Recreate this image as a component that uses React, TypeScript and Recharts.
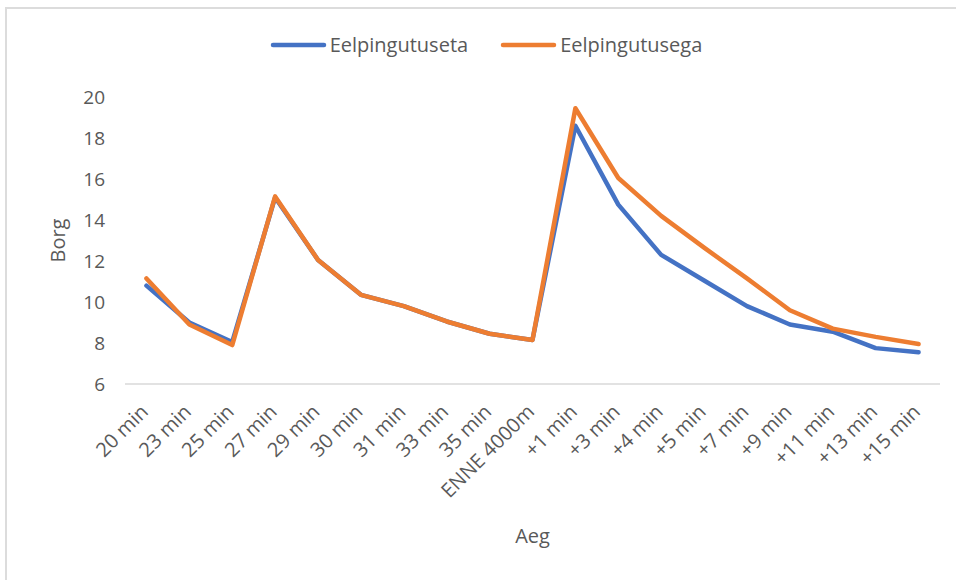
import React from 'react';
import { LineChart, Line, XAxis, YAxis, Legend } from 'recharts';

// Time points of the measurement session
const categories = [
  '20 min', '23 min', '25 min', '27 min', '29 min', '30 min', '31 min', '33 min', '35 min',
  'ENNE 4000m', '+1 min', '+3 min', '+4 min', '+5 min', '+7 min', '+9 min', '+11 min', '+13 min', '+15 min',
];

// Borg rating without warm-up
const eelpingutuseta = [
  10.8, 9.0, 8.05, 15.1, 12.05, 10.35, 9.8, 9.05, 8.45, 8.15,
  18.6, 14.75, 12.3, 11.05, 9.8, 8.9, 8.55, 7.75, 7.55,
];

// Borg rating with warm-up
const eelpingutusega = [
  11.15, 8.9, 7.9, 15.15, 12.05, 10.35, 9.8, 9.05, 8.45, 8.15,
  19.45, 16.05, 14.2, 12.65, 11.15, 9.6, 8.7, 8.3, 7.95,
];

const seriesNames = ['Eelpingutuseta', 'Eelpingutusega'];

const yTicks = [6, 8, 10, 12, 14, 16, 18, 20];

const data = categories.map((c, i) => ({
  aeg: c,
  eelpingutuseta: eelpingutuseta[i],
  eelpingutusega: eelpingutusega[i],
}));

const FONT = "'Open Sans', 'DejaVu Sans', sans-serif";
const TEXT = '#595959';
const BLUE = '#4472C4';
const ORANGE = '#ED7D31';

const XTick = (props: any) => {
  const { x, y, payload } = props;
  const ax = x + 3;
  const ay = y + 21;
  return (
    <text
      x={ax}
      y={ay}
      transform={`rotate(-45, ${ax}, ${ay})`}
      textAnchor="end"
      fill={TEXT}
      fontSize={20}
      fontFamily={FONT}
    >
      {payload.value}
    </text>
  );
};

const LegendContent = (props: any) => {
  const payload = [...(props.payload || [])].sort(
    (a: any, b: any) => seriesNames.indexOf(a.value) - seriesNames.indexOf(b.value)
  );
  return (
    <div style={{ display: 'flex', justifyContent: 'center', alignItems: 'center', fontFamily: FONT }}>
      {payload.map((entry: any, i: number) => (
        <span
          key={entry.value}
          style={{ display: 'inline-flex', alignItems: 'center', marginLeft: i === 0 ? 0 : 32 }}
        >
          <svg width={57} height={10} style={{ display: 'block' }}>
            <line x1={3} y1={5} x2={54} y2={5} stroke={entry.color} strokeWidth={4.5} strokeLinecap="round" />
          </svg>
          <span style={{ fontSize: 20, color: TEXT, marginLeft: 3, lineHeight: '28px' }}>{entry.value}</span>
        </span>
      ))}
    </div>
  );
};

export default function App() {
  return (
    <div style={{ position: 'absolute', left: 0, top: 0, width: 956, height: 580, overflow: 'hidden', background: '#fff' }}>
      <div
        style={{
          position: 'absolute',
          left: 5,
          top: 7,
          width: 1000,
          height: 1000,
          borderTop: '2px solid #dcdcdc',
          borderLeft: '2px solid #dcdcdc',
        }}
      />
      <div style={{ position: 'absolute', left: 0, top: 0 }}>
        <LineChart width={956} height={580} data={data} margin={{ top: 97, right: 16, bottom: 0, left: 0 }}>
          <XAxis
            dataKey="aeg"
            interval={0}
            height={196}
            padding={{ left: 21.45, right: 21.45 }}
            axisLine={{ stroke: '#d9d9d9', strokeWidth: 1.5 }}
            tickLine={false}
            tick={<XTick />}
            label={{
              value: 'Aeg',
              position: 'insideBottom',
              offset: 37,
              fill: TEXT,
              fontSize: 20,
              fontFamily: FONT,
            }}
          />
          <YAxis
            domain={[6, 20]}
            ticks={yTicks}
            width={125}
            axisLine={false}
            tickLine={false}
            tickMargin={14}
            tick={{ fill: TEXT, fontSize: 19, fontFamily: FONT }}
            label={{
              value: 'Borg',
              angle: -90,
              position: 'center',
              dx: -5,
              fill: TEXT,
              fontSize: 20,
              fontFamily: FONT,
            }}
          />
          <Legend
            layout="horizontal"
            verticalAlign="middle"
            align="center"
            wrapperStyle={{ top: 31, left: 8, width: 956 }}
            content={<LegendContent />}
          />
          <Line
            type="linear"
            dataKey="eelpingutuseta"
            name={seriesNames[0]}
            stroke={BLUE}
            strokeWidth={4.5}
            strokeLinecap="round"
            strokeLinejoin="round"
            dot={false}
            activeDot={false}
            isAnimationActive={false}
          />
          <Line
            type="linear"
            dataKey="eelpingutusega"
            name={seriesNames[1]}
            stroke={ORANGE}
            strokeWidth={4.5}
            strokeLinecap="round"
            strokeLinejoin="round"
            dot={false}
            activeDot={false}
            isAnimationActive={false}
          />
        </LineChart>
      </div>
    </div>
  );
}
